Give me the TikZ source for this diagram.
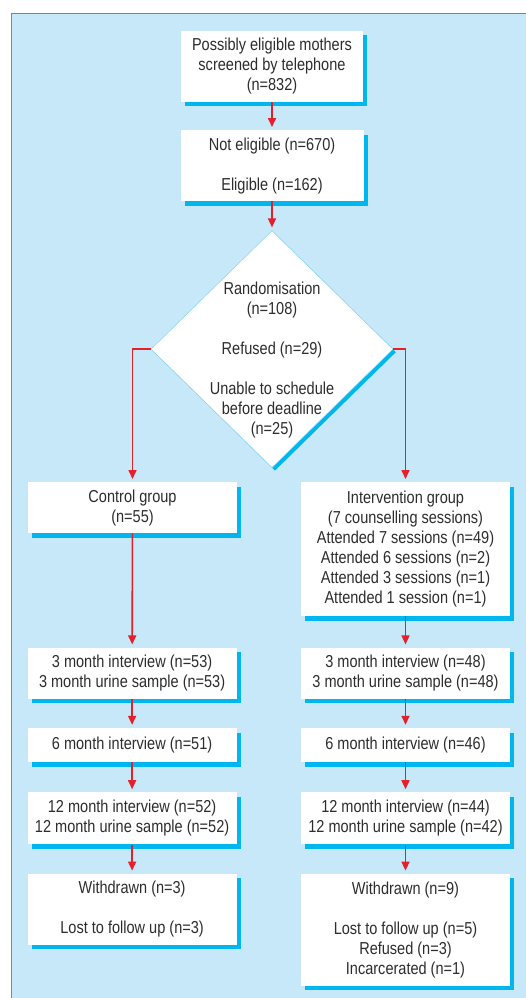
\documentclass[tikz,border=0pt]{standalone}
\usepackage{fontspec}
\setmainfont{Liberation Sans}[FakeStretch=0.84]
\usepackage{xcolor}
\usepackage{tikz}
\usetikzlibrary{positioning}
\usetikzlibrary{shapes.geometric}
\usetikzlibrary{shadows}
\usetikzlibrary{arrows.meta}
\definecolor{panelblue}{RGB}{198,232,248}
\definecolor{panelline}{RGB}{30,166,223}
\definecolor{shadowblue}{RGB}{0,182,238}
\definecolor{diamondline}{RGB}{140,210,240}
\definecolor{arrowred}{RGB}{229,32,42}
\definecolor{textgrey}{RGB}{45,45,45}
\tikzset{flowbox/.style={fill=white, text=textgrey, align=center, inner sep=0pt, minimum width=209pt, font=\fontsize{17.3}{20}\selectfont, drop shadow={shadow xshift=4pt, shadow yshift=-4.5pt, fill=shadowblue, opacity=1}}}
\tikzset{randbox/.style={diamond, fill=white, draw=diamondline, line width=0.5pt, inner sep=0pt, minimum width=242pt, minimum height=237pt, drop shadow={shadow xshift=3pt, shadow yshift=-3pt, fill=shadowblue, opacity=1}}}
\tikzset{randtext/.style={text=textgrey, align=center, inner sep=0pt, font=\fontsize{17.3}{20}\selectfont}}
\tikzset{flowarrow/.style={draw=arrowred, line width=1.6pt, -{Triangle[width=8pt,length=9pt]}, shorten >=3pt}}

\begin{document}
\begin{tikzpicture}[x=1pt, y=1pt]
\useasboundingbox (0,0) rectangle (525,-998);
\draw[fill=panelblue, draw=panelline, line width=1.2pt] (11.5,-13.5) rectangle (540,-1010);

\node[flowbox, minimum width=182pt, minimum height=71pt] (screened) at (272,-66.3) {Possibly eligible mothers\\screened by telephone\\(n=832)};
\node[flowbox, minimum width=183pt, minimum height=71pt, below=28pt of screened] (eligible) {Not eligible (n=670)\\[20pt]Eligible (n=162)};
\node[randbox, below=29pt of eligible] (rand) {};
\node[randtext] (randlabel) at ([yshift=-11pt]rand.center) {Randomisation\\(n=108)\\[20pt]Refused (n=29)\\[20pt]Unable to schedule\\before deadline\\(n=25)};

\node[flowbox, minimum height=51pt, anchor=north] (control) at (132.5,-482) {Control group\\(n=55)};
\node[flowbox, minimum height=134pt, anchor=north] (interv) at (405.5,-482) {Intervention group\\(7 counselling sessions)\\Attended 7 sessions (n=49)\\Attended 6 sessions (n=2)\\Attended 3 sessions (n=1)\\Attended 1 session (n=1)};

\node[flowbox, minimum height=51pt, below=31pt of interv] (threeR) {3 month interview (n=48)\\3 month urine sample (n=48)};
\node[flowbox, minimum height=51pt, left=64pt of threeR] (threeL) {3 month interview (n=53)\\3 month urine sample (n=53)};
\node[flowbox, minimum height=34pt, below=29pt of threeR] (sixR) {6 month interview (n=46)};
\node[flowbox, minimum height=34pt, left=64pt of sixR] (sixL) {6 month interview (n=51)};
\node[flowbox, minimum height=52pt, below=30pt of sixR] (twelveR) {12 month interview (n=44)\\12 month urine sample (n=42)};
\node[flowbox, minimum height=52pt, left=64pt of twelveR] (twelveL) {12 month interview (n=52)\\12 month urine sample (n=52)};
\node[flowbox, minimum height=112pt, below=29pt of twelveR] (withdrawnR) {Withdrawn (n=9)\\[20pt]Lost to follow up (n=5)\\Refused (n=3)\\Incarcerated (n=1)};
\node[flowbox, minimum height=71pt, below=29pt of twelveL] (withdrawnL) {Withdrawn (n=3)\\[20pt]Lost to follow up (n=3)};

\draw[flowarrow] (screened) -- (eligible);
\draw[flowarrow] (eligible) -- (rand);
\draw[flowarrow] (rand.west) -| (control.north);
\draw[flowarrow] (rand.east) -| (interv.north);
\draw[flowarrow] (control) -- (threeL);
\draw[flowarrow] (interv) -- (threeR);
\draw[flowarrow] (threeL) -- (sixL);
\draw[flowarrow] (threeR) -- (sixR);
\draw[flowarrow] (sixL) -- (twelveL);
\draw[flowarrow] (sixR) -- (twelveR);
\draw[flowarrow] (twelveL) -- (withdrawnL);
\draw[flowarrow] (twelveR) -- (withdrawnR);
\end{tikzpicture}
\end{document}
